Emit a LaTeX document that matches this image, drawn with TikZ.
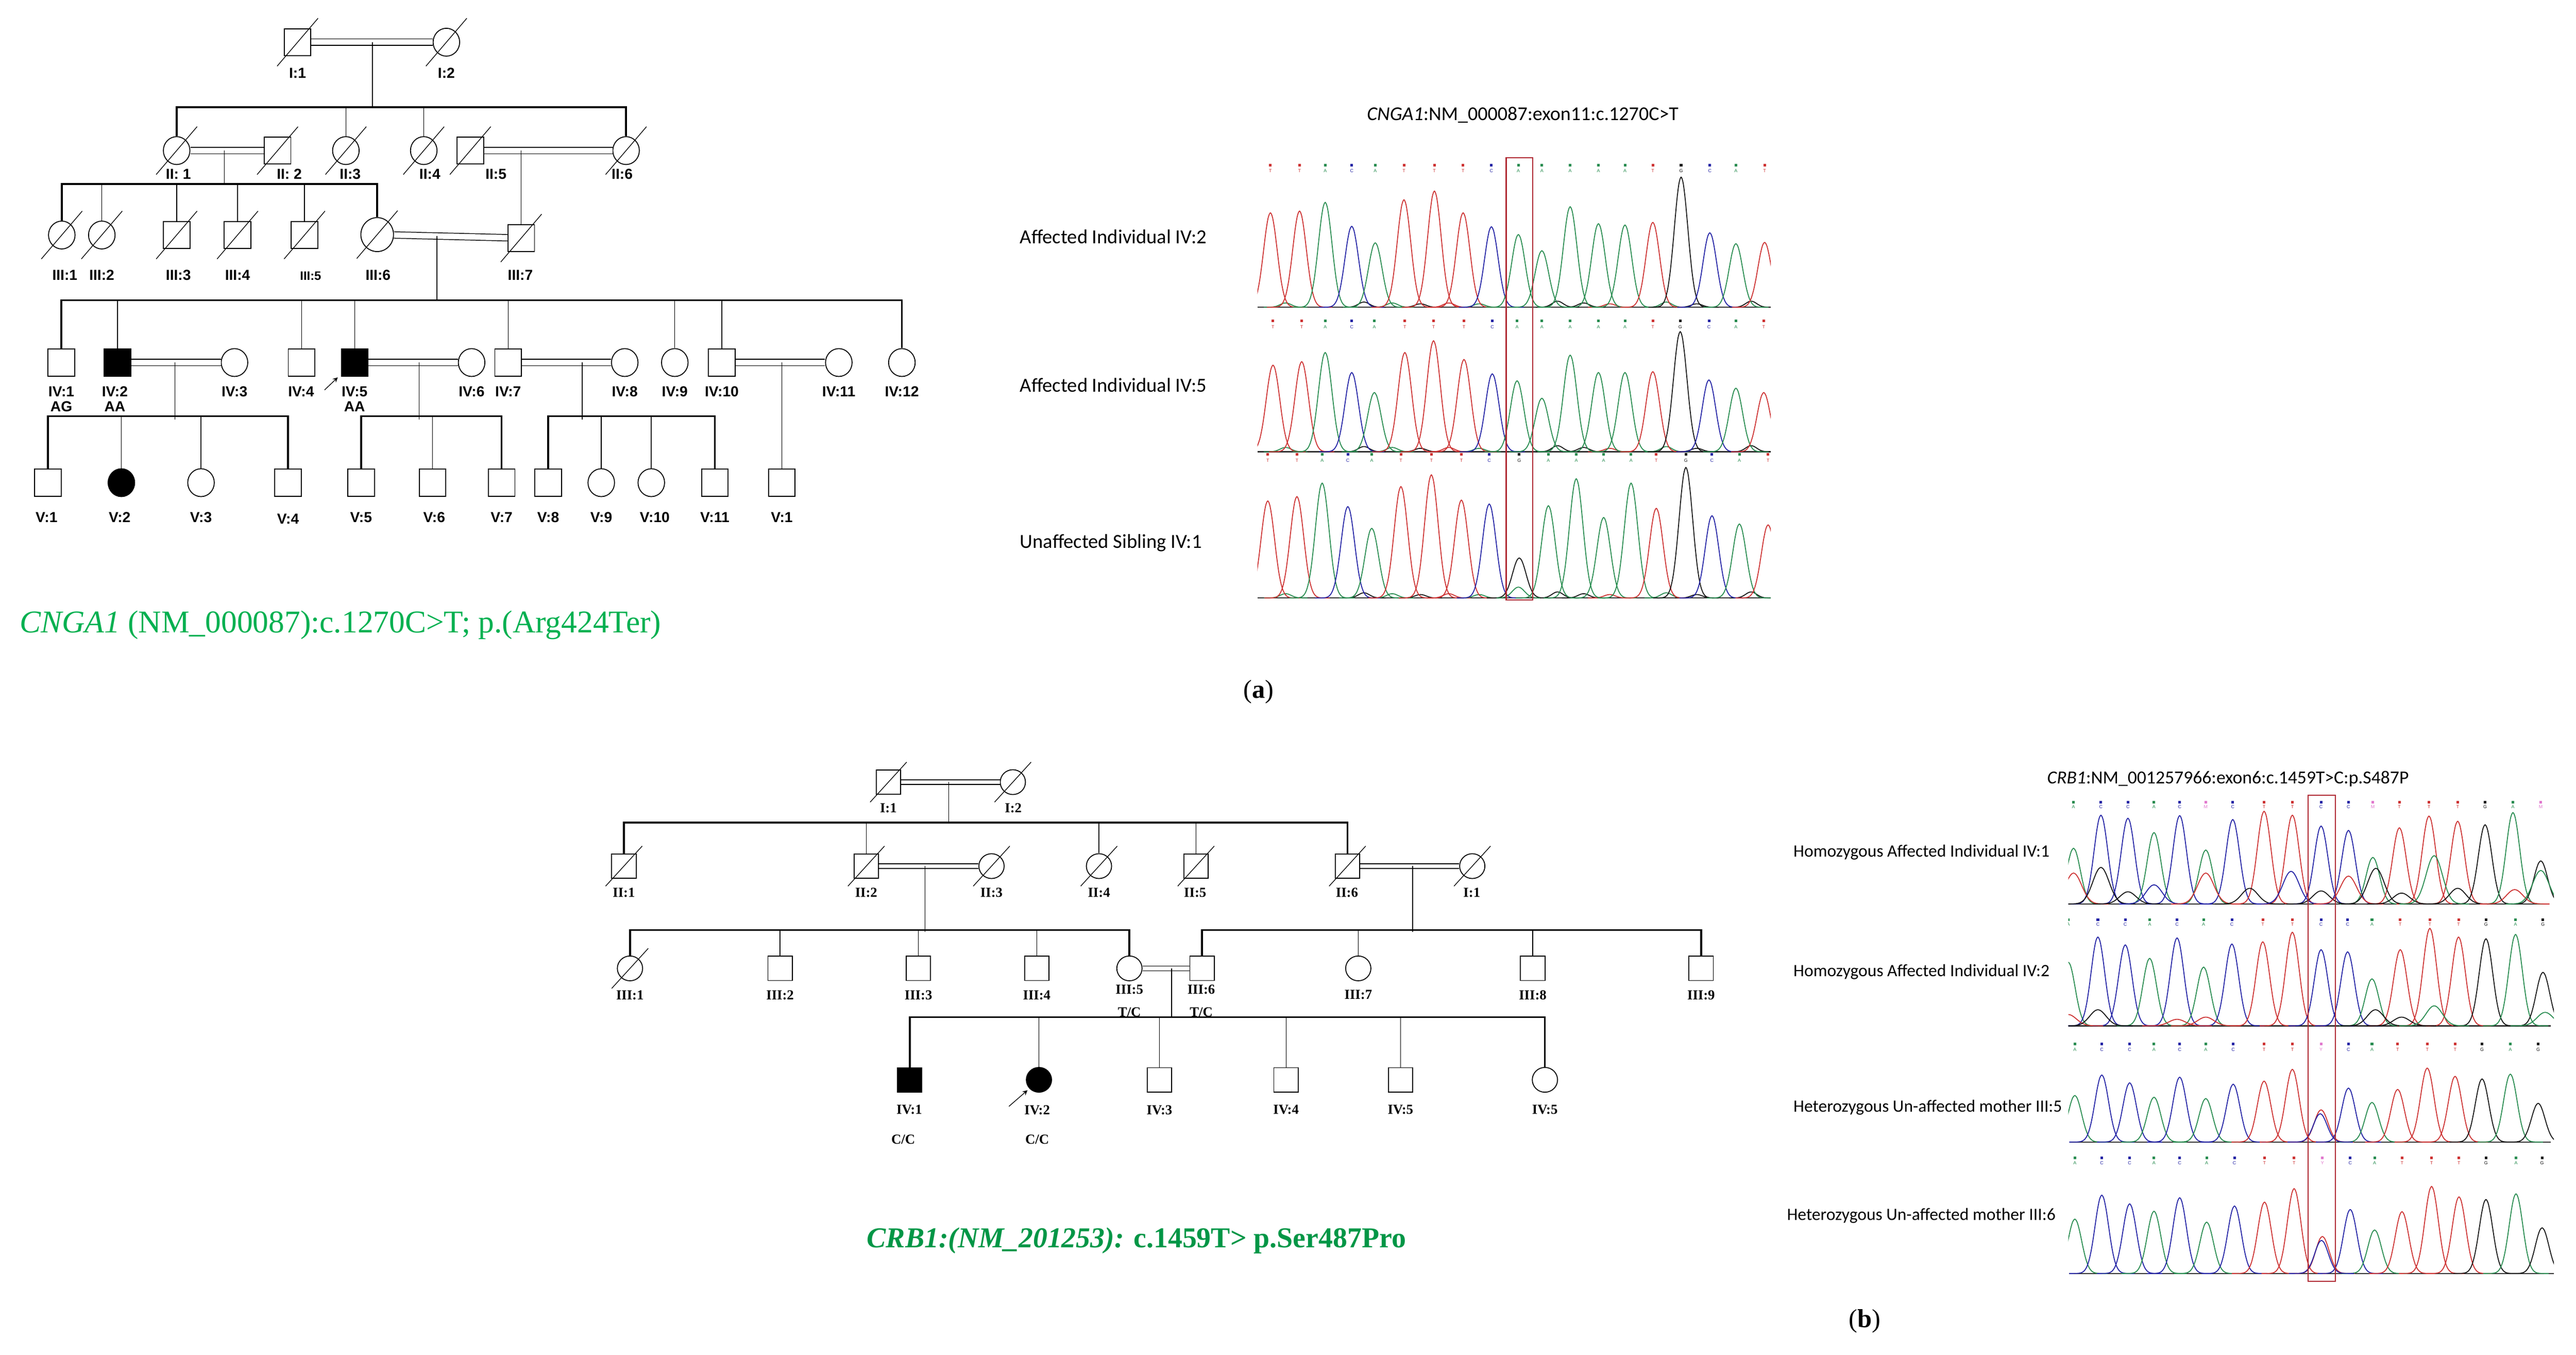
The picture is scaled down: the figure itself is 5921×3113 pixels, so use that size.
\documentclass[tikz,border=0pt]{standalone}
\usepackage{fontspec}
\setmainfont{Liberation Serif}
\newfontfamily\arialfont{Liberation Sans}
\newfontfamily\calibrifont{Carlito}
\usetikzlibrary{shapes.geometric}
\definecolor{traceR}{RGB}{205,50,50}
\definecolor{traceG}{RGB}{40,140,80}
\definecolor{traceB}{RGB}{35,35,165}
\definecolor{traceK}{RGB}{20,20,20}
\definecolor{traceM}{RGB}{225,120,205}
\definecolor{boxred}{RGB}{175,40,50}
\definecolor{mutgreen}{RGB}{0,176,80}
\definecolor{mutgreenb}{RGB}{0,150,70}

\begin{document}
\begin{tikzpicture}[x=0.01cm, y=-0.01cm,
        male/.style={rectangle, draw, line width=0.6pt, minimum width=0.61cm, minimum height=0.62cm, inner sep=0pt},
        female/.style={ellipse, draw, line width=0.6pt, minimum width=0.61cm, minimum height=0.64cm, inner sep=0pt},
        bmale/.style={male, minimum width=0.56cm, minimum height=0.56cm},
        bfemale/.style={female, minimum width=0.58cm, minimum height=0.57cm},
        affected/.style={fill=black},
        marriage/.style={double, double distance=0.13cm, line width=0.5pt},
        bmarriage/.style={double, double distance=0.09cm, line width=0.5pt},
        sib/.style={line width=1.2pt},
        drop/.style={line width=0.45pt},
        dead/.style={line width=0.45pt},
        proband/.style={->, >=stealth, line width=0.45pt},
        plabel/.style={font=\arialfont\bfseries\fontsize{9.5}{11}\selectfont},
        blabel/.style={font=\bfseries\fontsize{9}{11}\selectfont},
        tlabel/.style={font=\calibrifont\fontsize{13}{15}\selectfont, anchor=west},
        blabelr/.style={font=\calibrifont\fontsize{11.3}{13}\selectfont, anchor=west},
        ttitle/.style={font=\calibrifont\fontsize{12.8}{14}\selectfont},
        baselet/.style={font=\arialfont\fontsize{3}{3}\selectfont, inner sep=0pt},
        trace/.style={line width=0.6pt},
        axis/.style={line width=0.8pt, black!80},
        mutbox/.style={draw=boxred, line width=0.7pt}
    ]
        \useasboundingbox (0,0) rectangle (5921,3113);

        % ---------- pedigree (a) ----------
        \coordinate (sII) at (0,246);
        \coordinate (sIII) at (0,423);
        \coordinate (sIV) at (0,690);
        \coordinate (sV) at (0,956);

        \node[male] (I1) at (684,97) {};
        \node[female] (I2) at (1026,97) {};
        \node[plabel] (lI1) at (684,168) {I:1};
        \node[plabel] (lI2) at (1026,168) {I:2};

        \node[female] (II1) at (406,346) {};
        \node[male] (II2) at (638,346) {};
        \node[female] (II3) at (795,346) {};
        \node[female] (II4) at (974,346) {};
        \node[male] (II5) at (1081,346) {};
        \node[female] (II6) at (1439,346) {};
        \node[plabel] (lII1) at (410,400) {II: 1};
        \node[plabel] (lII2) at (665,400) {II: 2};
        \node[plabel] (lII3) at (805,400) {II:3};
        \node[plabel] (lII4) at (988,400) {II:4};
        \node[plabel] (lII5) at (1140,400) {II:5};
        \node[plabel] (lII6) at (1430,400) {II:6};

        \node[female] (III1) at (142,540) {};
        \node[female] (III2) at (234,540) {};
        \node[male] (III3) at (406,540) {};
        \node[male] (III4) at (546,540) {};
        \node[male] (III5) at (700,540) {};
        \node[female, minimum width=0.75cm, minimum height=0.78cm] (III6) at (867,539) {};
        \node[male] (III7) at (1198,547) {};
        \node[plabel] (lIII1) at (149,632) {III:1};
        \node[plabel] (lIII2) at (234,632) {III:2};
        \node[plabel] (lIII3) at (410,632) {III:3};
        \node[plabel] (lIII4) at (546,632) {III:4};
        \node[plabel, font=\arialfont\bfseries\fontsize{8}{10}\selectfont] (lIII5) at (714,634) {III:5};
        \node[plabel] (lIII6) at (869,632) {III:6};
        \node[plabel] (lIII7) at (1196,632) {III:7};

        \node[male] (IV1) at (141,833) {};
        \node[male, affected] (IV2) at (270,833) {};
        \node[female] (IV3) at (539,833) {};
        \node[male] (IV4) at (693,833) {};
        \node[male, affected] (IV5) at (815,833) {};
        \node[female] (IV6) at (1084,833) {};
        \node[male] (IV7) at (1168,833) {};
        \node[female] (IV8) at (1436,833) {};
        \node[female] (IV9) at (1551,833) {};
        \node[male] (IV10) at (1659,833) {};
        \node[female] (IV11) at (1928,833) {};
        \node[female] (IV12) at (2073,833) {};
        \node[plabel] (lIV1) at (141,900) {IV:1};
        \node[plabel] (lIV2) at (264,900) {IV:2};
        \node[plabel] (lIV3) at (539,900) {IV:3};
        \node[plabel] (lIV4) at (692,900) {IV:4};
        \node[plabel] (lIV5) at (815,900) {IV:5};
        \node[plabel] (lIV6) at (1084,900) {IV:6};
        \node[plabel] (lIV7) at (1168,900) {IV:7};
        \node[plabel] (lIV8) at (1436,900) {IV:8};
        \node[plabel] (lIV9) at (1551,900) {IV:9};
        \node[plabel] (lIV10) at (1659,900) {IV:10};
        \node[plabel] (lIV11) at (1928,900) {IV:11};
        \node[plabel] (lIV12) at (2073,900) {IV:12};
        \node[plabel] (gIV1) at (141,934) {AG};
        \node[plabel] (gIV2) at (264,934) {AA};
        \node[plabel] (gIV5) at (815,934) {AA};

        \node[male] (V1) at (110,1109) {};
        \node[female, affected] (V2) at (279,1109) {};
        \node[female] (V3) at (462,1109) {};
        \node[male] (V4) at (662,1109) {};
        \node[male] (V5) at (830,1109) {};
        \node[male] (V6) at (994,1109) {};
        \node[male] (V7) at (1153,1109) {};
        \node[male] (V8) at (1260,1109) {};
        \node[female] (V9) at (1382,1109) {};
        \node[female] (V10) at (1497,1109) {};
        \node[male] (V11) at (1643,1109) {};
        \node[male] (V12) at (1797,1109) {};
        \node[plabel] (lV1) at (107,1189) {V:1};
        \node[plabel] (lV2) at (275,1189) {V:2};
        \node[plabel] (lV3) at (462,1189) {V:3};
        \node[plabel] (lV4) at (662,1192) {V:4};
        \node[plabel] (lV5) at (830,1189) {V:5};
        \node[plabel] (lV6) at (998,1189) {V:6};
        \node[plabel] (lV7) at (1153,1189) {V:7};
        \node[plabel] (lV8) at (1260,1189) {V:8};
        \node[plabel] (lV9) at (1382,1189) {V:9};
        \node[plabel] (lV10) at (1505,1189) {V:10};
        \node[plabel] (lV11) at (1643,1189) {V:11};
        \node[plabel] (lV12) at (1797,1189) {V:1};

        \foreach \n in {I1,I2,II1,II2,II3,II4,II5,II6,III1,III2,III3,III4,III5,III6,III7}
            \draw[dead] ([shift={(-47,55)}]\n.center) -- ([shift={(47,-55)}]\n.center);

        \draw[marriage] (I1) -- (I2);
        \coordinate (dI) at (856,97);
        \draw[drop] (dI) -- (dI |- sII);
        \draw[sib] (II1.north) -- (II1.north |- sII) -- (II6.north |- sII) -- (II6.north);
        \foreach \n in {II3,II4}
            \draw[drop] (\n.north) -- (\n.north |- sII);

        \draw[marriage] (II1) -- (II2);
        \draw[marriage] (II5) -- (II6);
        \coordinate (dIIa) at (516,346);
        \draw[drop] (dIIa) -- (dIIa |- sIII);
        \coordinate (dIIb) at (1198,346);
        \draw[drop] (dIIb) -- (III7.north);
        \draw[sib] (III1.north) -- (III1.north |- sIII) -- (III6.north |- sIII) -- (III6.north);
        \foreach \n in {III2,III3,III4,III5}
            \draw[drop] (\n.north) -- (\n.north |- sIII);

        \draw[marriage] (III6) -- (III7);
        \coordinate (dIII) at (1004,542);
        \draw[drop] (dIII) -- (dIII |- sIV);
        \draw[sib] (IV1.north) -- (IV1.north |- sIV) -- (IV12.north |- sIV) -- (IV12.north);
        \foreach \n in {IV2,IV4,IV5,IV7,IV9,IV10}
            \draw[drop] (\n.north) -- (\n.north |- sIV);

        \draw[marriage] (IV2) -- (IV3);
        \draw[marriage] (IV5) -- (IV6);
        \draw[marriage] (IV7) -- (IV8);
        \draw[marriage] (IV10) -- (IV11);
        \coordinate (dIVa) at (402,833);
        \coordinate (dIVb) at (963,833);
        \coordinate (dIVc) at (1338,833);
        \coordinate (dIVd) at (1797,833);
        \draw[drop] (dIVa) -- ([yshift=-0.08cm]dIVa |- sV);
        \draw[drop] (dIVb) -- ([yshift=-0.08cm]dIVb |- sV);
        \draw[drop] (dIVc) -- ([yshift=-0.08cm]dIVc |- sV);
        \draw[drop] (dIVd) -- (V12.north);
        \draw[sib] (V1.north) -- (V1.north |- sV) -- (V4.north |- sV) -- (V4.north);
        \draw[sib] (V5.north) -- (V5.north |- sV) -- (V7.north |- sV) -- (V7.north);
        \draw[sib] (V8.north) -- (V8.north |- sV) -- (V11.north |- sV) -- (V11.north);
        \foreach \n in {V2,V3,V6,V9,V10}
            \draw[drop] (\n.north) -- (\n.north |- sV);

        \coordinate (aIV5) at (746,896);
        \draw[proband] (aIV5) -- ([xshift=-0.07cm,yshift=-0.02cm]IV5.south west);

        \node[anchor=west, text=mutgreen, font=\fontsize{20.7}{24}\selectfont] (mutA) at (33,1436)
            {\textit{CNGA1} (NM\_000087):c.1270C>T; p.(Arg424Ter)};

        % ---------- chromatograms (a) ----------
        \node[ttitle] (titleA) at (3500,264) {\textit{CNGA1}:NM\_000087:exon11:c.1270C>T};
        \node[tlabel] (lchA1) at (2332,544) {Affected Individual IV:2};
        \node[tlabel] (lchA2) at (2332,885) {Affected Individual IV:5};
        \node[tlabel] (lchA3) at (2332,1248) {Unaffected Sibling IV:1};

        \begin{scope}
            \clip (2890,300) rectangle (4070,1390);
            \foreach \base in {706,1038,1374}{
                \draw[axis] (2890,\base) -- (4070,\base);
                \foreach \p/\h/\col in {2955/10/traceG, 3135/12/traceK, 3200/10/traceG, 3265/8/traceK,
                        3330/10/traceR, 3400/8/traceG, 3580/14/traceK, 3640/10/traceK, 3700/8/traceR,
                        3830/12/traceG, 3900/8/traceK, 4025/14/traceK}
                    \draw[trace, draw=\col] plot[domain=\p-50:\p+50, samples=21, smooth]
                        (\x,{\base-\h*exp(-(\x-\p)*(\x-\p)/324)});
            }
            \foreach \p/\h/\col/\b in {2920/217/traceR/T, 2987/221/traceR/T, 3046/241/traceG/A,
                    3107/186/traceB/C, 3161/148/traceG/A, 3227/247/traceR/T, 3297/267/traceR/T,
                    3363/217/traceR/T, 3428/185/traceB/C, 3490/167/traceG/A, 3544/130/traceG/A,
                    3609/231/traceG/A, 3674/192/traceG/A, 3735/189/traceG/A, 3799/195/traceR/T,
                    3864/299/traceK/G, 3930/171/traceB/C, 3990/146/traceG/A, 4056/149/traceR/T}{
                \draw[trace, draw=\col] plot[domain=\p-75:\p+75, samples=31, smooth]
                    (\x,{706-\h*exp(-(\x-\p)*(\x-\p)/484)});
                \fill[\col] (\p-3,377) rectangle (\p+3,383);
                \node[baselet, text=\col] (mA\p) at (\p,393) {\b};
            }
            \foreach \p/\h/\col/\b in {2926/199/traceR/T, 2992/207/traceR/T, 3046/228/traceG/A,
                    3107/182/traceB/C, 3159/136/traceG/A, 3229/228/traceR/T, 3295/255/traceR/T,
                    3365/212/traceR/T, 3430/179/traceB/C, 3487/163/traceG/A, 3544/123/traceG/A,
                    3609/222/traceG/A, 3674/182/traceG/A, 3735/182/traceG/A, 3799/184/traceR/T,
                    3862/276/traceK/G, 3928/165/traceB/C, 3990/146/traceG/A, 4054/136/traceR/T}{
                \draw[trace, draw=\col] plot[domain=\p-75:\p+75, samples=31, smooth]
                    (\x,{1038-\h*exp(-(\x-\p)*(\x-\p)/484)});
                \fill[\col] (\p-3,734) rectangle (\p+3,740);
                \node[baselet, text=\col] (mB\p) at (\p,751) {\b};
            }
            \foreach \p/\h/\col/\b in {2914/223/traceR/T, 2981/233/traceR/T, 3039/264/traceG/A,
                    3098/210/traceB/C, 3153/160/traceG/A, 3220/256/traceR/T, 3290/283/traceR/T,
                    3359/225/traceR/T, 3423/216/traceB/C, 3492/92/traceK/G, 3559/212/traceG/A,
                    3623/274/traceG/A, 3686/185/traceG/A, 3749/264/traceG/A, 3807/206/traceR/T,
                    3875/300/traceK/G, 3935/189/traceB/C, 3998/170/traceG/A, 4064/168/traceR/T}{
                \draw[trace, draw=\col] plot[domain=\p-75:\p+75, samples=31, smooth]
                    (\x,{1374-\h*exp(-(\x-\p)*(\x-\p)/484)});
                \fill[\col] (\p-3,1041) rectangle (\p+3,1047);
                \node[baselet, text=\col] (mC\p) at (\p,1058) {\b};
            }
            \draw[trace, draw=traceG] plot[domain=3440:3540, samples=21, smooth]
                (\x,{1374-25*exp(-(\x-3490)*(\x-3490)/400)});
        \end{scope}
        \draw[mutbox] (3462,362) rectangle (3523,1378);

        \node[font=\fontsize{17}{20}\selectfont] (capA) at (2893,1590) {(\textbf{a})};

        % ---------- pedigree (b) ----------
        \coordinate (tII) at (0,1890);
        \coordinate (tIII) at (0,2137);
        \coordinate (tIV) at (0,2337);

        \node[bmale] (bI1) at (2042,1797) {};
        \node[bfemale] (bI2) at (2328,1797) {};
        \node[blabel] (lbI1) at (2042,1857) {I:1};
        \node[blabel] (lbI2) at (2329,1857) {I:2};

        \node[bmale] (bII1) at (1434,1990) {};
        \node[bmale] (bII2) at (1991,1990) {};
        \node[bfemale] (bII3) at (2279,1990) {};
        \node[bfemale] (bII4) at (2526,1990) {};
        \node[bmale] (bII5) at (2749,1990) {};
        \node[bmale] (bII6) at (3097,1990) {};
        \node[bfemale] (bII7) at (3384,1990) {};
        \node[blabel] (lbII1) at (1434,2051) {II:1};
        \node[blabel] (lbII2) at (1991,2051) {II:2};
        \node[blabel] (lbII3) at (2279,2051) {II:3};
        \node[blabel] (lbII4) at (2526,2051) {II:4};
        \node[blabel] (lbII5) at (2747,2051) {II:5};
        \node[blabel] (lbII6) at (3096,2051) {II:6};
        \node[blabel] (lbII7) at (3383,2051) {I:1};

        \node[bfemale] (bIII1) at (1448,2225) {};
        \node[bmale] (bIII2) at (1793,2225) {};
        \node[bmale] (bIII3) at (2111,2225) {};
        \node[bmale] (bIII4) at (2383,2225) {};
        \node[bfemale] (bIII5) at (2596,2225) {};
        \node[bmale] (bIII6) at (2763,2225) {};
        \node[bfemale] (bIII7) at (3122,2225) {};
        \node[bmale] (bIII8) at (3523,2225) {};
        \node[bmale] (bIII9) at (3910,2225) {};
        \node[blabel] (lbIII1) at (1448,2286) {III:1};
        \node[blabel] (lbIII2) at (1793,2286) {III:2};
        \node[blabel] (lbIII3) at (2111,2286) {III:3};
        \node[blabel] (lbIII4) at (2383,2286) {III:4};
        \node[blabel] (lbIII5) at (2596,2273) {III:5};
        \node[blabel] (lbIII6) at (2761,2273) {III:6};
        \node[blabel] (lbIII7) at (3122,2286) {III:7};
        \node[blabel] (lbIII8) at (3523,2286) {III:8};
        \node[blabel] (lbIII9) at (3910,2286) {III:9};
        \node[blabel] (gbIII5) at (2596,2326) {T/C};
        \node[blabel] (gbIII6) at (2761,2326) {T/C};

        \node[bmale, affected] (bIV1) at (2091,2481) {};
        \node[bfemale, affected] (bIV2) at (2388,2481) {};
        \node[bmale] (bIV3) at (2665,2481) {};
        \node[bmale] (bIV4) at (2956,2481) {};
        \node[bmale] (bIV5) at (3219,2481) {};
        \node[bfemale] (bIV6) at (3551,2481) {};
        \node[blabel] (lbIV1) at (2090,2550) {IV:1};
        \node[blabel] (lbIV2) at (2384,2550) {IV:2};
        \node[blabel] (lbIV3) at (2665,2550) {IV:3};
        \node[blabel] (lbIV4) at (2956,2550) {IV:4};
        \node[blabel] (lbIV5) at (3219,2550) {IV:5};
        \node[blabel] (lbIV6) at (3551,2550) {IV:5};
        \node[blabel] (gbIV1) at (2076,2618) {C/C};
        \node[blabel] (gbIV2) at (2384,2618) {C/C};

        \foreach \n in {bI1,bI2,bII1,bII2,bII3,bII4,bII5,bII6,bII7,bIII1}
            \draw[dead] ([shift={(-42,46)}]\n.center) -- ([shift={(42,-46)}]\n.center);

        \draw[bmarriage] (bI1) -- (bI2);
        \coordinate (dbI) at (2181,1797);
        \draw[drop] (dbI) -- (dbI |- tII);
        \draw[sib] (bII1.north) -- (bII1.north |- tII) -- (bII6.north |- tII) -- (bII6.north);
        \foreach \n in {bII2,bII4,bII5}
            \draw[drop] (\n.north) -- (\n.north |- tII);

        \draw[bmarriage] (bII2) -- (bII3);
        \draw[bmarriage] (bII6) -- (bII7);
        \coordinate (dbIIa) at (2126,1990);
        \coordinate (dbIIb) at (3247,1990);
        \draw[drop] (dbIIa) -- ([yshift=-0.04cm]dbIIa |- tIII);
        \draw[drop] (dbIIb) -- ([yshift=-0.04cm]dbIIb |- tIII);
        \draw[sib] (bIII1.north) -- (bIII1.north |- tIII) -- (bIII5.north |- tIII) -- (bIII5.north);
        \draw[sib] (bIII6.north) -- (bIII6.north |- tIII) -- (bIII9.north |- tIII) -- (bIII9.north);
        \foreach \n in {bIII2,bIII3,bIII4,bIII7,bIII8}
            \draw[drop] (\n.north) -- (\n.north |- tIII);

        \draw[bmarriage] (bIII5) -- (bIII6);
        \coordinate (dbIII) at (2693,2225);
        \draw[drop] (dbIII) -- (dbIII |- tIV);
        \draw[sib] (bIV1.north) -- (bIV1.north |- tIV) -- (bIV6.north |- tIV) -- (bIV6.north);
        \foreach \n in {bIV2,bIV3,bIV4,bIV5}
            \draw[drop] (\n.north) -- (\n.north |- tIV);

        \coordinate (abIV2) at (2319,2542);
        \draw[proband] (abIV2) -- ([xshift=-0.05cm,yshift=-0.03cm]bIV2.south west);

        \node[anchor=west, text=mutgreenb, font=\bfseries\fontsize{18.8}{22}\selectfont] (mutB) at (1980,2851)
            {\textit{CRB1:(NM\_201253):} c.1459T> p.Ser487Pro};

        % ---------- chromatograms (b) ----------
        \node[ttitle, font=\calibrifont\fontsize{12}{14}\selectfont] (titleB) at (5121,1789)
            {\textit{CRB1}:NM\_001257966:exon6:c.1459T>C:p.S487P};
        \node[blabelr] (lchB1) at (4110,1958) {Homozygous Affected Individual IV:1};
        \node[blabelr] (lchB2) at (4110,2233) {Homozygous Affected Individual IV:2};
        \node[blabelr] (lchB3) at (4110,2544) {Heterozygous Un-affected mother III:5};
        \node[blabelr] (lchB4) at (4095,2793) {Heterozygous Un-affected mother III:6};

        \begin{scope}
            \clip (4754,1820) rectangle (5870,2940);
            \draw[axis] (4756,2077) -- (5854,2077);
            \draw[axis] (4748,2357) -- (5863,2357);
            \draw[axis] (4760,2624) -- (5863,2624);
            \draw[axis] (4756,2926) -- (5875,2926);
            \foreach \p/\h/\col/\b/\mc in {4766/128/traceG/A/traceG, 4829/204/traceB/C/traceB,
                    4891/197/traceB/C/traceB, 4951/164/traceG/A/traceG, 5010/203/traceB/C/traceB,
                    5070/124/traceG/M/traceM, 5132/194/traceB/C/traceB, 5204/213/traceR/T/traceR,
                    5269/204/traceR/T/traceR, 5335/179/traceB/C/traceB, 5398/169/traceB/C/traceB,
                    5454/107/traceG/M/traceM, 5515/175/traceR/T/traceR, 5583/202/traceR/T/traceR,
                    5649/190/traceR/T/traceR, 5712/182/traceK/G/traceK, 5776/210/traceG/A/traceG,
                    5840/99/traceK/M/traceM}{
                \draw[trace, draw=\col] plot[domain=\p-75:\p+75, samples=31, smooth]
                    (\x,{2077-\h*exp(-(\x-\p)*(\x-\p)/484)});
                \fill[\mc] (\p-3,1840) rectangle (\p+3,1846);
                \node[baselet, text=\mc] (mD\p) at (\p,1854) {\b};
            }
            \foreach \p/\h/\col in {4766/71/traceR, 4829/84/traceK, 4891/28/traceK, 4951/44/traceB,
                    5070/71/traceR, 5171/36/traceK, 5266/75/traceB, 5335/30/traceK, 5398/64/traceR,
                    5461/82/traceK, 5520/25/traceK, 5595/111/traceG, 5649/36/traceK, 5780/33/traceR,
                    5840/77/traceG}
                \draw[trace, draw=\col] plot[domain=\p-80:\p+80, samples=31, smooth]
                    (\x,{2077-\h*exp(-(\x-\p)*(\x-\p)/700)});
            \foreach \p/\h/\col/\b in {4754/146/traceG/A, 4822/204/traceB/C, 4885/186/traceB/C,
                    4941/155/traceG/A, 5004/202/traceB/C, 5065/135/traceG/A, 5130/188/traceB/C,
                    5201/193/traceR/T, 5269/215/traceR/T, 5335/175/traceB/C, 5396/170/traceB/C,
                    5452/108/traceG/A, 5517/175/traceR/T, 5585/224/traceR/T, 5651/204/traceR/T,
                    5714/200/traceK/G, 5782/210/traceG/A, 5845/123/traceK/G}{
                \draw[trace, draw=\col] plot[domain=\p-75:\p+75, samples=31, smooth]
                    (\x,{2357-\h*exp(-(\x-\p)*(\x-\p)/484)});
                \fill[\col] (\p-3,2110) rectangle (\p+3,2116);
                \node[baselet, text=\col] (mE\p) at (\p,2124) {\b};
            }
            \foreach \p/\h/\col in {4754/26/traceR, 4822/37/traceK, 5004/15/traceR, 5070/20/traceR,
                    5460/37/traceK, 5520/20/traceK, 5595/46/traceG, 5850/31/traceG}
                \draw[trace, draw=\col] plot[domain=\p-80:\p+80, samples=31, smooth]
                    (\x,{2357-\h*exp(-(\x-\p)*(\x-\p)/700)});
            \foreach \p/\h/\col/\b/\mc in {4769/107/traceG/A/traceG, 4831/154/traceB/C/traceB,
                    4895/136/traceB/C/traceB, 4951/103/traceG/A/traceG, 5010/149/traceB/C/traceB,
                    5070/100/traceG/A/traceG, 5133/133/traceB/C/traceB, 5204/140/traceR/T/traceR,
                    5269/167/traceR/T/traceR, 5335/74/traceR/Y/traceM, 5398/124/traceB/C/traceB,
                    5452/91/traceG/A/traceG, 5511/121/traceR/T/traceR, 5579/170/traceR/T/traceR,
                    5643/151/traceR/T/traceR, 5705/145/traceK/G/traceK, 5770/156/traceG/A/traceG,
                    5834/89/traceK/G/traceK}{
                \draw[trace, draw=\col] plot[domain=\p-75:\p+75, samples=31, smooth]
                    (\x,{2624-\h*exp(-(\x-\p)*(\x-\p)/484)});
                \fill[\mc] (\p-3,2396) rectangle (\p+3,2402);
                \node[baselet, text=\mc] (mF\p) at (\p,2411) {\b};
            }
            \draw[trace, draw=traceB] plot[domain=5258:5408, samples=31, smooth]
                (\x,{2624-65*exp(-(\x-5333)*(\x-5333)/484)});
            \foreach \p/\h/\col/\b/\mc in {4769/125/traceG/A/traceG, 4831/180/traceB/C/traceB,
                    4895/160/traceB/C/traceB, 4951/143/traceG/A/traceG, 5010/174/traceB/C/traceB,
                    5072/118/traceG/A/traceG, 5136/155/traceB/C/traceB, 5205/164/traceR/T/traceR,
                    5273/195/traceR/T/traceR, 5338/85/traceR/Y/traceM, 5402/147/traceB/C/traceB,
                    5458/100/traceG/A/traceG, 5521/142/traceR/T/traceR, 5589/200/traceR/T/traceR,
                    5652/176/traceR/T/traceR, 5714/170/traceK/G/traceK, 5783/183/traceG/A/traceG,
                    5843/105/traceK/G/traceK}{
                \draw[trace, draw=\col] plot[domain=\p-75:\p+75, samples=31, smooth]
                    (\x,{2926-\h*exp(-(\x-\p)*(\x-\p)/484)});
                \fill[\mc] (\p-3,2657) rectangle (\p+3,2663);
                \node[baselet, text=\mc] (mG\p) at (\p,2672) {\b};
            }
            \draw[trace, draw=traceB] plot[domain=5261:5411, samples=31, smooth]
                (\x,{2926-76*exp(-(\x-5336)*(\x-5336)/484)});
        \end{scope}
        \draw[mutbox, line width=0.85pt] (5305,1827) rectangle (5368,2944);

        \node[font=\fontsize{17}{20}\selectfont] (capB) at (4286,3035) {(\textbf{b})};
    \end{tikzpicture}
\end{document}
